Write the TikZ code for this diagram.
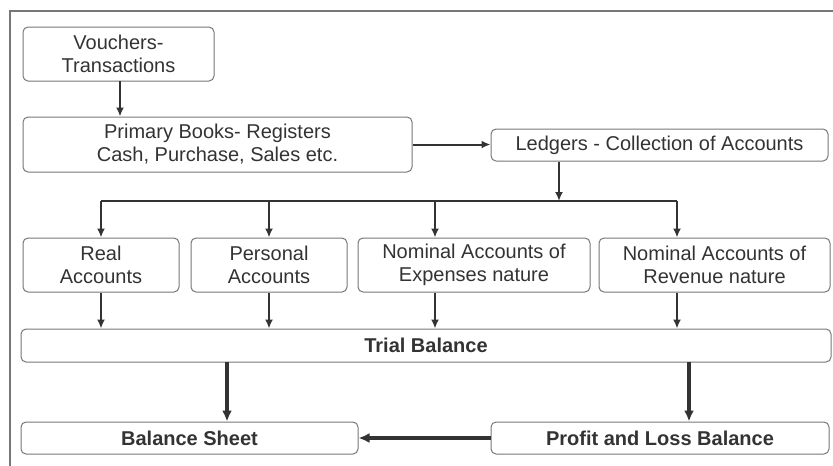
\documentclass[tikz,border=0pt]{standalone}
\usepackage{fontspec}
\setmainfont{Liberation Sans}
\usetikzlibrary{arrows.meta}
\definecolor{txt}{HTML}{333333}
\definecolor{boxline}{HTML}{777777}
\definecolor{arr}{HTML}{333333}
\begin{document}
\begin{tikzpicture}[x=1pt,y=-1pt,
  box/.style={draw=boxline,line width=1pt,rounded corners=5pt,inner sep=0pt,
    align=center,text=txt,font=\fontsize{20}{23}\selectfont},
  boldbox/.style={box,font=\fontsize{20}{23}\selectfont\bfseries},
  thinarr/.style={draw=arr,line width=2pt,-{Latex[length=9pt,width=8pt]}},
  thickarr/.style={draw=arr,line width=3.5pt,-{Latex[length=11pt,width=10pt]}},
  branch/.style={draw=arr,line width=2pt}]
\useasboundingbox (0,0) rectangle (833,466);
\draw[boxline,line width=1.5pt] (10,466) -- (10,11) -- (833,11);

\node[box,minimum width=191pt,minimum height=54pt] (vouch) at (118.5,54) {Vouchers-\\Transactions};
\node[box,minimum width=389pt,minimum height=55pt] (prim) at (217.5,144.5) {Primary Books- Registers\\Cash, Purchase, Sales etc.};
\node[box,minimum width=337pt,minimum height=32pt] (ledg) at (659.5,145) {Ledgers - Collection of Accounts};
\node[box,minimum width=156pt,minimum height=54pt] (real) at (101,265) {Real\\Accounts};
\node[box,minimum width=156pt,minimum height=54pt] (pers) at (269,265) {Personal\\Accounts};
\node[box,minimum width=232pt,minimum height=54pt] (nexp) at (474,265) {Nominal Accounts of\\Expenses nature};
\node[box,minimum width=231pt,minimum height=54pt] (nrev) at (714.5,265) {Nominal Accounts of\\Revenue nature};
\node[boldbox,minimum width=810pt,minimum height=33pt] (trial) at (426,345.5) {Trial Balance};
\node[boldbox,minimum width=337pt,minimum height=32pt] (bs) at (189.5,438) {Balance Sheet};
\node[boldbox,minimum width=338pt,minimum height=32pt] (pl) at (660,438) {Profit and Loss Balance};

\coordinate (v) at (120,81);
\draw[thinarr] (v) -- (v |- prim.north);
\draw[thinarr] (prim.east) -- (prim.east -| ledg.west);
\coordinate (lb) at (559,201);
\draw[thinarr] (lb |- ledg.south) -- (lb);
\coordinate (b1) at (101,201);
\coordinate (b2) at (269,201);
\coordinate (b3) at (435,201);
\coordinate (b4) at (677,201);
\draw[branch] (b1) -- (b4);
\foreach \b/\n in {b1/real,b2/pers,b3/nexp,b4/nrev}{
  \draw[thinarr] (\b) -- (\b |- \n.north);
  \draw[thinarr] (\b |- \n.south) -- (\b |- trial.north);
}
\coordinate (t1) at (227,362);
\coordinate (t2) at (689,362);
\draw[thickarr] (t1) -- (t1 |- bs.north);
\draw[thickarr] (t2) -- (t2 |- pl.north);
\draw[thickarr] (pl.west) -- (bs.east);
\end{tikzpicture}
\end{document}
